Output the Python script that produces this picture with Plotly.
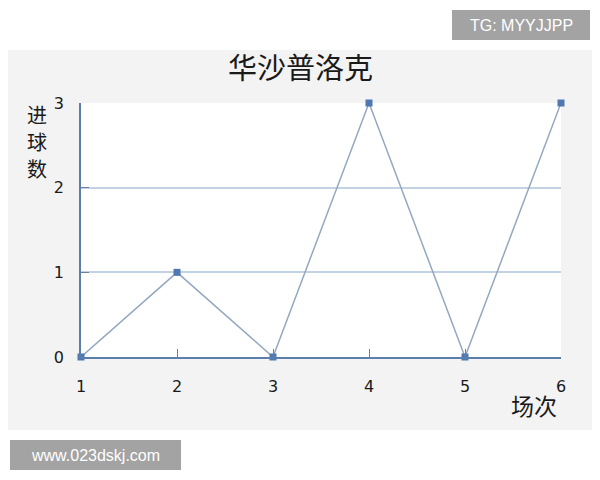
import plotly.graph_objects as go

matches = [1, 2, 3, 4, 5, 6]
goals = [0, 1, 0, 3, 0, 3]
y_ticks = [0, 1, 2, 3]
x_ticks = [1, 2, 3, 4, 5, 6]
title_text = "华沙普洛克"
y_title_chars = ["进", "球", "数"]
x_title = "场次"

# page offset (browser body margin) compensation
OFF = 8
L, R, T, B = 81 - OFF, 39, 103 - OFF, 123
W, H = 600 - OFF, 480 - OFF
PW, PH = W - L - R, H - T - B  # plot area size


def px(x):
    return (x - OFF - L) / PW


def py(y):
    return (H - B - (y - OFF)) / PH


fig = go.Figure()
fig.add_trace(go.Scatter(
    x=matches, y=goals, mode="lines+markers",
    line=dict(color="#94a8c0", width=1.5),
    marker=dict(symbol="square", size=7, color="#4f78b0"),
    cliponaxis=False, showlegend=False,
))

font_cjk = "Noto Sans CJK SC, DejaVu Sans, sans-serif"
font_num = "DejaVu Sans, sans-serif"

annotations = [
    dict(text=title_text, xref="paper", yref="paper", x=px(300), y=py(66),
         showarrow=False, font=dict(size=29, color="#1a1a1a", family=font_cjk),
         xanchor="center", yanchor="middle"),
    dict(text=x_title, xref="paper", yref="paper", x=px(534), y=py(405),
         showarrow=False, font=dict(size=23, color="#1a1a1a", family=font_cjk),
         xanchor="center", yanchor="middle"),
    dict(text="TG: MYYJJPP", xref="paper", yref="paper", x=px(521), y=py(25),
         showarrow=False, font=dict(size=16, color="white", family="Liberation Sans, Arial"),
         xanchor="center", yanchor="middle"),
    dict(text="www.023dskj.com", xref="paper", yref="paper", x=px(95), y=py(455),
         showarrow=False, font=dict(size=16, color="white", family="Liberation Sans, Arial"),
         xanchor="center", yanchor="middle"),
]
for i, ch in enumerate(y_title_chars):
    annotations.append(dict(text=ch, xref="paper", yref="paper", x=px(37), y=py(114 + 27 * i),
                            showarrow=False, font=dict(size=20, color="#1a1a1a", family=font_cjk),
                            xanchor="center", yanchor="middle"))

fig.update_layout(
    width=W, height=H,
    margin=dict(l=L, r=R, t=T, b=B),
    paper_bgcolor="white",
    plot_bgcolor="white",
    font=dict(family=font_num, color="#1a1a1a", size=16),
    xaxis=dict(
        range=[1, 6], tickvals=x_ticks, showgrid=False,
        showline=True, linecolor="#5a7fae", linewidth=2,
        ticks="inside", ticklen=8, tickcolor="#6a7f99", tickwidth=1,
        tickfont=dict(size=16, color="#1a1a1a"), zeroline=False,
        ticklabelstandoff=14,
    ),
    yaxis=dict(
        range=[0, 3], tickvals=y_ticks, showgrid=True,
        gridcolor="#c3d2e2", gridwidth=1.5,
        showline=True, linecolor="#5a7fae", linewidth=1.5,
        ticks="inside", ticklen=8, tickcolor="#6a7f99",
        tickfont=dict(size=16, color="#1a1a1a"), zeroline=False,
        ticklabelstandoff=12,
    ),
    shapes=[
        dict(type="rect", xref="paper", yref="paper",
             x0=px(0), x1=px(600), y0=py(430), y1=py(50),
             fillcolor="#f3f3f3", line=dict(width=0), layer="below"),
        dict(type="rect", xref="paper", yref="paper",
             x0=0, x1=1, y0=0, y1=1,
             fillcolor="white", line=dict(width=0), layer="below"),
        dict(type="rect", xref="paper", yref="paper",
             x0=px(452), x1=px(590), y0=py(40), y1=py(10),
             fillcolor="#a3a3a3", line=dict(width=0)),
        dict(type="rect", xref="paper", yref="paper",
             x0=px(10), x1=px(181), y0=py(470), y1=py(440),
             fillcolor="#a3a3a3", line=dict(width=0)),
    ],
    annotations=annotations,
)

fig.write_html("out.html")
